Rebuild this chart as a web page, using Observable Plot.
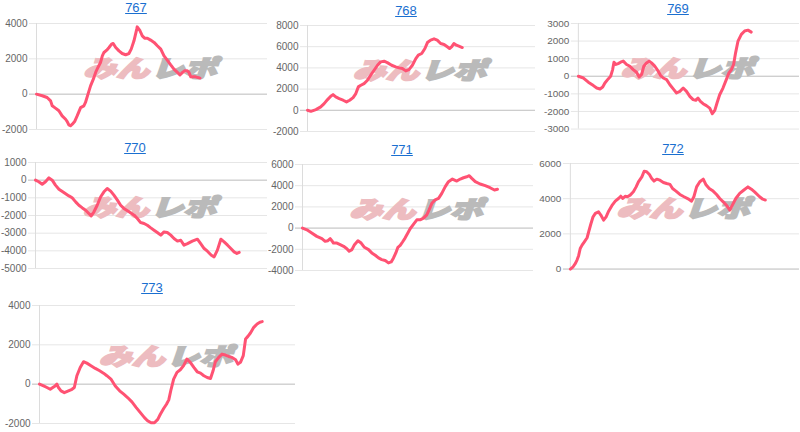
<!DOCTYPE html>
<html><head><meta charset="utf-8">
<script src="https://cdn.jsdelivr.net/npm/d3@7"></script>
<script src="https://cdn.jsdelivr.net/npm/@observablehq/plot@0.6"></script>
<style>
body{margin:0;background:#fff;width:800px;height:432px;overflow:hidden;position:relative;font-family:"Liberation Sans",Arial,sans-serif}
.t{position:absolute;width:120px;text-align:center;font-size:13px;line-height:16px}
.t a{color:#1a6fd0;text-decoration:underline}
.p{position:absolute}
</style></head><body>
<script>
// ---- data: games played vs. coin difference, per machine ----
const titles = ["767","768","769","770","771","772","773"];

const g767 = [0,250,460,610,680,820,970,1110,1260,1330,1400,1470,1550,1650,1760,1910,2050,2120,2230,2340,2460,2560,2660,2770,2850,2920,3040,3140,3250,3320,3430,3570,3710,3860,4000,4100,4220,4340,4360,4480,4580,4680,4800,4940,5090,5230,5380,5520,5660,5810,5950,6100,6210,6320,6420,6530,6600,6680,6790,6890,6990,7080];
const v767 = [0,-90,-190,-380,-660,-790,-940,-1230,-1420,-1550,-1740,-1790,-1700,-1550,-1230,-760,-660,-470,0,470,850,1230,1510,1790,2170,2360,2490,2640,2830,2870,2640,2450,2300,2230,2300,2550,3020,3680,3810,3590,3300,3170,3170,3060,2930,2740,2550,2170,1930,1660,1420,1230,1090,1230,1320,1320,1230,980,980,980,940,910];

const g768 = [0,150,370,580,730,880,1020,1120,1240,1390,1560,1710,1850,2000,2120,2230,2340,2480,2630,2770,2920,3070,3210,3360,3500,3690,3870,4020,4160,4310,4450,4600,4750,4860,5010,5150,5260,5400,5550,5690,5840,5990,6130,6230,6320,6420,6530,6640,6790];
const v768 = [0,-100,60,320,630,1010,1320,1480,1260,1100,950,790,950,1200,1580,2210,2360,2520,2840,3310,3780,4250,4570,4630,4500,4250,4100,4000,3940,3720,3840,4250,4880,5200,5360,5830,6390,6620,6740,6620,6300,6210,5990,5830,5990,6300,6140,6050,5920];

const g769 = [0,230,450,680,830,980,1100,1200,1350,1460,1550,1610,1700,1800,1910,2030,2180,2330,2480,2630,2750,2860,2960,3080,3200,3310,3460,3610,3720,3840,3990,4140,4290,4440,4590,4740,4890,5040,5190,5310,5410,5520,5640,5790,5940,6060,6170,6270,6390,6540,6690,6810,6920,7020,7110,7220,7370,7520,7670,7820];
const v769 = [0,-100,-340,-530,-670,-720,-610,-380,-150,0,380,800,670,720,800,860,670,570,380,230,-40,100,570,760,860,760,570,290,40,-100,-190,-480,-720,-950,-860,-670,-860,-1140,-1330,-1370,-1240,-1430,-1560,-1670,-1810,-2130,-1940,-1520,-1050,-670,-190,190,380,670,1330,2000,2380,2570,2620,2510];

const g770 = [0,140,290,430,580,720,860,1010,1220,1440,1580,1730,1870,2020,2160,2300,2400,2520,2660,2810,2950,3090,3240,3380,3530,3670,3810,4030,4250,4390,4530,4680,4820,4970,5110,5250,5400,5540,5680,5830,5970,6120,6260,6400,6550,6760,6980,7120,7270,7410,7580,7700,7840,7990,8130,8280,8420,8560,8680,8780];
const v770 = [0,-90,-230,-90,130,0,-280,-510,-700,-890,-1000,-1230,-1420,-1570,-1700,-1890,-2020,-1790,-1420,-940,-660,-470,-620,-850,-1130,-1420,-1600,-1790,-1980,-2170,-2400,-2450,-2550,-2700,-2830,-2960,-3110,-2930,-2960,-3110,-3300,-3450,-3400,-3680,-3590,-3450,-3340,-3590,-3870,-4020,-4250,-4340,-3960,-3340,-3490,-3680,-3870,-4060,-4150,-4090];

const g771 = [0,190,400,620,840,980,1100,1200,1270,1340,1490,1630,1780,1920,2020,2140,2250,2400,2540,2680,2860,3000,3150,3290,3430,3580,3720,3840,3940,4040,4130,4230,4330,4440,4560,4660,4810,4950,5090,5240,5380,5480,5600,5740,5890,6030,6180,6320,6490,6680,6830,6970,7110,7220,7330,7480,7690,7910,8120,8310,8440];
const v771 = [0,-160,-470,-780,-1000,-1250,-1190,-1000,-1190,-1410,-1410,-1560,-1720,-1940,-2190,-2030,-1560,-1190,-1410,-1810,-2030,-2340,-2560,-2810,-2970,-3060,-3280,-3190,-2810,-2340,-1810,-1630,-1310,-940,-470,-60,380,780,780,940,1250,1720,2340,2660,2810,3280,3910,4380,4630,4440,4630,4750,4840,4940,4690,4380,4160,4000,3810,3590,3660];

const g772 = [0,120,220,290,360,430,510,610,730,800,900,990,1090,1230,1330,1450,1560,1670,1810,1960,2100,2200,2290,2390,2490,2610,2750,2870,2970,3120,3220,3330,3450,3550,3650,3770,3910,4060,4200,4350,4460,4610,4780,4960,5140,5290,5390,5510,5650,5800,5910,6060,6230,6380,6520,6670,6810,6960,7070,7220,7390,7560,7750,7900,8040,8260,8400,8510];
const v772 = [0,130,320,510,760,1170,1360,1550,1780,2120,2590,2970,3160,3250,3070,2780,2970,3290,3600,3860,4010,4140,4010,4140,4110,4200,4390,4670,4960,5240,5560,5530,5370,5150,5000,5110,5050,4920,4860,4810,4580,4430,4240,4110,3990,3860,4110,4670,4960,5110,4810,4580,4430,4240,4010,3820,3630,3350,3630,4010,4300,4480,4670,4540,4390,4110,3970,3920];

const g773 = [0,160,290,420,520,610,680,740,840,970,1130,1270,1360,1460,1590,1720,1850,2010,2180,2350,2500,2630,2790,2960,3130,3290,3440,3610,3780,3940,4100,4230,4360,4490,4620,4720,4850,4960,5050,5140,5240,5370,5500,5630,5760,5890,6030,6160,6290,6420,6550,6680,6780,6870,7000,7130,7260,7390,7520,7660,7750,7850,7960,8050,8140,8240,8370,8500,8610,8700];
const v773 = [0,-90,-170,-260,-170,-90,0,-170,-340,-430,-340,-260,-170,430,850,1140,1070,940,800,680,560,430,260,-90,-340,-510,-680,-900,-1190,-1450,-1700,-1870,-1960,-1960,-1790,-1530,-1240,-1020,-800,-260,260,600,730,940,1280,1110,850,630,560,430,340,290,680,1140,1360,1530,1480,1410,1360,1240,1020,1110,1450,2300,2430,2600,2890,3060,3150,3180];

const series = [[g767,v767],[g768,v768],[g769,v769],[g770,v770],[g771,v771],[g772,v772],[g773,v773]];
const yDomains = [[-2000,4000],[-2000,8000],[-3000,3000],[-5000,1000],[-4000,6000],[0,6000],[-2000,4000]];
const yStep = [2000,2000,1000,1000,2000,2000,2000];
const xDomain = [0,10000];
const watermark = ["みん","レポ"];

// ---- layout (pixel geometry of each small multiple) ----
const layout = [
  {left:36,  right:267, top:23,  bottom:129, tx:136, tb:12},
  {left:307, right:535, top:25,  bottom:131, tx:406, tb:15},
  {left:578, right:800, top:23,  bottom:129, tx:678, tb:13},
  {left:35,  right:267, top:162, bottom:268, tx:135, tb:152},
  {left:302, right:533, top:164, bottom:270, tx:402, tb:154},
  {left:570, right:800, top:163, bottom:269, tx:673, tb:153},
  {left:39,  right:295, top:305, bottom:423, tx:152, tb:292}
];

const mL = 36, mT = 6, mB = 6, mR = 1;
titles.forEach((name, i) => {
  const L = layout[i];
  const [gs, vs] = series[i];
  const data = gs.map((g, j) => ({g, v: vs[j]}));
  const yd = yDomains[i];
  const ticks = d3.range(yd[0], yd[1] + 1, yStep[i]);
  const W = L.right - L.left + mL + mR;
  const H = L.bottom - L.top + mT + mB;
  const wm = {frameAnchor:"middle", dy:-7, fontSize:31, fontWeight:900, fontStyle:"italic",
              fontFamily:"'Noto Sans CJK JP', sans-serif", text: d => d, strokeWidth: 2.4, strokeLinejoin: "miter"};
  const chart = Plot.plot({
    width: W, height: H,
    marginLeft: mL, marginRight: mR, marginTop: mT, marginBottom: mB,
    style: {fontFamily: "'Liberation Sans', Arial, sans-serif", background: "transparent", overflow: "visible"},
    x: {domain: xDomain, axis: null},
    y: {domain: yd, axis: null},
    marks: [
      Plot.gridY(ticks, {stroke: "#e6e6e6", strokeOpacity: 1}),
      Plot.axisY(ticks, {tickSize: 7, tickPadding: 2, stroke: "#e6e6e6", fill: "#666", fontSize: 10, label: null, tickFormat: d => String(d)}),
      Plot.ruleY([0], {stroke: "#c6c6c6", insetLeft: -7}),
      Plot.ruleX([xDomain[0]], {stroke: "#dcdcdc"}),
      Plot.text([watermark[0]], {...wm, textAnchor: "end", dx: -3, fill: "#edbcc0", stroke: "#edbcc0"}),
      Plot.text([watermark[1]], {...wm, textAnchor: "start", dx: -1, fill: "#bababa", stroke: "#bababa"}),
      Plot.line(data, {x: "g", y: "v", stroke: "#ff5273", strokeWidth: 3, strokeLinejoin: "round", strokeLinecap: "round"})
    ]
  });
  // squash the watermark glyphs (wide, flat logo)
  chart.querySelectorAll("text").forEach(el => {
    if (watermark.includes(el.textContent)) {
      const tr = el.getAttribute("transform") || "";
      el.setAttribute("transform", tr + " scale(1.06,0.76)");
    }
  });
  const box = document.createElement("div");
  box.className = "p";
  box.style.left = (L.left - mL) + "px";
  box.style.top = (L.top - mT) + "px";
  box.appendChild(chart);
  document.body.appendChild(box);

  const t = document.createElement("div");
  t.className = "t";
  t.style.left = (L.tx - 60) + "px";
  t.style.top = (L.tb - 12) + "px";
  const a = document.createElement("a");
  a.href = "#";
  a.textContent = name;
  t.appendChild(a);
  document.body.appendChild(t);
});
</script></body></html>
